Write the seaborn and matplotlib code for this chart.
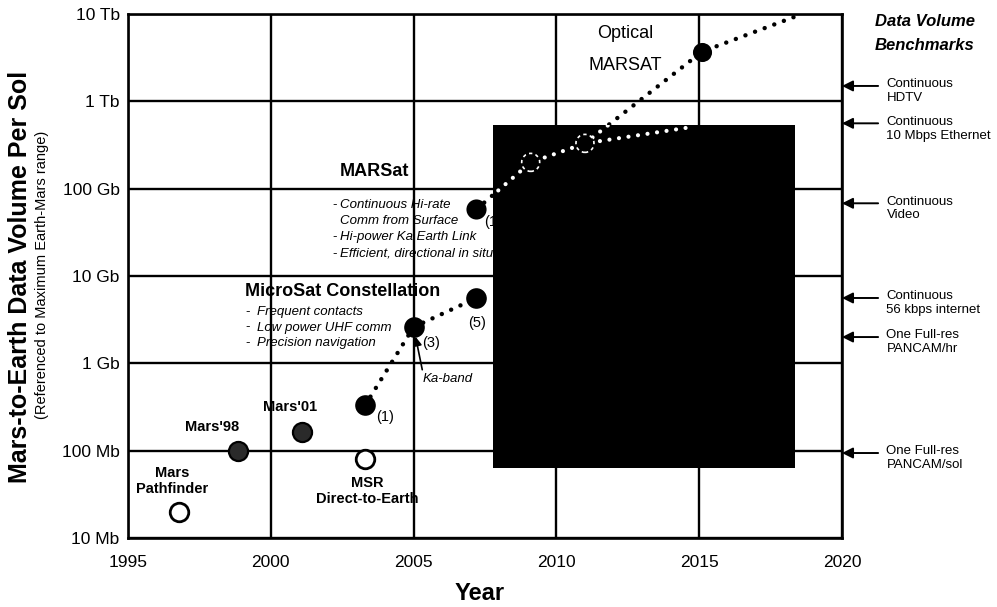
import matplotlib
matplotlib.use("Agg")
import matplotlib.pyplot as plt
import seaborn as sns
import numpy as np
import pandas as pd
from matplotlib.patches import Rectangle

# ---------------- data ----------------
mission_names = ["Mars\nPathfinder", "Mars'98", "Mars'01", "MSR\nDirect-to-Earth"]
mission_years = [1996.8, 1998.85, 2001.1, 2003.3]
mission_volume = [2.0e7, 1.0e8, 1.65e8, 8.0e7]

microsat_labels = ["(1)", "(3)", "(5)"]
microsat_years = [2003.3, 2005.0, 2007.2]
microsat_volume = [3.3e8, 2.6e9, 5.6e9]

marsat_years = [2007.2, 2009.1, 2011.0, 2014.6]
marsat_volume = [5.8e10, 2.0e11, 3.3e11, 5.0e11]

optical_years = [2011.0, 2015.1, 2018.6]
optical_volume = [3.3e11, 3.7e12, 1.0e13]

benchmark_labels = ["Continuous\nHDTV", "Continuous\n10 Mbps Ethernet", "Continuous\nVideo",
                    "Continuous\n56 kbps internet", "One Full-res\nPANCAM/hr", "One Full-res\nPANCAM/sol"]
benchmark_volume = [1.5e12, 5.6e11, 6.8e10, 5.6e9, 2.0e9, 9.4e7]

x_ticks = [1995, 2000, 2005, 2010, 2015, 2020]
y_ticks = [1e7, 1e8, 1e9, 1e10, 1e11, 1e12, 1e13]
y_tick_labels = ["10 Mb", "100 Mb", "1 Gb", "10 Gb", "100 Gb", "1 Tb", "10 Tb"]

microsat_notes = ["Frequent contacts", "Low power UHF comm", "Precision navigation"]
marsat_notes = ["Continuous Hi-rate", "Comm from Surface", "Hi-power Ka Earth Link", "Efficient, directional in situ"]

# redaction block in the scan (years, volume)
block_x = (2007.78, 2018.35)
block_y = (6.3e7, 5.3e11)

# ---------------- style ----------------
sns.set_theme(style="white")
plt.rcParams["font.family"] = ["Liberation Sans", "DejaVu Sans"]
plt.rcParams["text.color"] = "black"
plt.rcParams["axes.labelcolor"] = "black"
plt.rcParams["xtick.color"] = "black"
plt.rcParams["ytick.color"] = "black"

W, H = 997, 607
fig = plt.figure(figsize=(W / 100, H / 100), dpi=100)
ax = fig.add_axes([128 / W, 1 - 538 / H, (842 - 128) / W, (538 - 14) / H])

def fx(x):
    return x / W

def fy(y):
    return 1 - y / H

ax.set_yscale("log")
ax.set_xlim(1995, 2020)
ax.set_ylim(1e7, 1e13)
ax.set_xticks(x_ticks)
ax.set_xticklabels([str(t) for t in x_ticks], fontsize=12.5, color="black")
ax.set_yticks(y_ticks)
ax.set_yticklabels(y_tick_labels, fontsize=12.5, color="black")
ax.yaxis.set_minor_locator(matplotlib.ticker.NullLocator())
ax.tick_params(axis="both", length=0, colors="black")
ax.tick_params(axis="x", pad=12)
ax.tick_params(axis="y", pad=6)
ax.set_axisbelow(True)
ax.grid(True, color="black", linewidth=1.7)
for s in ax.spines.values():
    s.set_color("black")
    s.set_linewidth(1.9)
ax.set_xlabel("")
ax.set_ylabel("")

dot_ls = (0, (0.01, 2.3))

# trend lines (black, beneath the block)
for xs, ys in [(microsat_years, microsat_volume), (marsat_years, marsat_volume),
               (optical_years, optical_volume)]:
    sns.lineplot(x=xs, y=ys, ax=ax, color="black", lw=3.2, linestyle=dot_ls,
                 dash_capstyle="round", sort=False, estimator=None, zorder=2)

# block
block = Rectangle((block_x[0], block_y[0]), block_x[1] - block_x[0], block_y[1] - block_y[0],
                  facecolor="black", edgecolor="none", zorder=3)
ax.add_patch(block)

# white copies visible through the block
for xs, ys in [(marsat_years, marsat_volume), (optical_years, optical_volume)]:
    ln, = ax.plot(xs, ys, color="white", lw=3.0, linestyle=dot_ls, dash_capstyle="round", zorder=4)
    ln.set_clip_path(block)

# missions
msize = 210
sns.scatterplot(x=[mission_years[0], mission_years[3]], y=[mission_volume[0], mission_volume[3]],
                ax=ax, s=msize * 0.85, color="white", edgecolor="black", linewidth=2.0, zorder=2.5)
sns.scatterplot(x=[mission_years[1], mission_years[2]], y=[mission_volume[1], mission_volume[2]],
                ax=ax, s=msize * 0.9, color="#2a2a2a", edgecolor="black", linewidth=1.6, zorder=2.5)
sns.scatterplot(x=microsat_years, y=microsat_volume, ax=ax, s=msize * 1.05, color="black",
                edgecolor="black", linewidth=0, zorder=2.5)
sns.scatterplot(x=[marsat_years[0]], y=[marsat_volume[0]], ax=ax, s=msize, color="black",
                edgecolor="black", linewidth=0, zorder=2.5)
sns.scatterplot(x=[optical_years[1]], y=[optical_volume[1]], ax=ax, s=msize * 0.9, color="black",
                edgecolor="black", linewidth=0, zorder=2.5)
oc = ax.scatter(marsat_years[1:3], marsat_volume[1:3], s=msize * 0.8, facecolor="black",
                edgecolor="white", linewidth=1.2, linestyle=(0, (2, 2)), zorder=4.5)
oc.set_clip_path(block)

# ---------------- text ----------------
mission_pos = [(172, 481), (212, 427), (290, 407), (367, 491)]
for name, (px, py) in zip(mission_names, mission_pos):
    fig.text(fx(px), fy(py), name, ha="center", va="center", fontsize=10.5,
             fontweight="bold", linespacing=1.15)

for lab, (px, py) in zip(microsat_labels, [(385, 417), (431, 343), (477, 323)]):
    fig.text(fx(px), fy(py), lab, ha="center", va="center", fontsize=10.5)
fig.text(fx(484), fy(222), "(1)", ha="left", va="center", fontsize=10.5, zorder=0)

ax.annotate("Ka-band", xy=(microsat_years[1], microsat_volume[1]), xycoords="data",
            xytext=(fx(448), fy(379)), textcoords="figure fraction",
            ha="center", va="center", fontsize=9.5, style="italic",
            arrowprops=dict(arrowstyle="-|>", color="black", lw=1.2, mutation_scale=13,
                            shrinkA=0, shrinkB=7, relpos=(0.0, 1.0)))

fig.text(fx(245), fy(292), "MicroSat Constellation", ha="left", va="center",
         fontsize=13, fontweight="bold")
for i, note in enumerate(microsat_notes):
    y = 312 + i * 15.5
    fig.text(fx(245), fy(y), "-", ha="left", va="center", fontsize=9.5)
    fig.text(fx(257), fy(y), note, ha="left", va="center", fontsize=9.5, style="italic")

fig.text(fx(374), fy(172), "MARSat", ha="center", va="center", fontsize=13, fontweight="bold")
for i, note in enumerate(marsat_notes):
    y = 205 + i * 16.2
    if i != 1:
        fig.text(fx(332), fy(y), "-", ha="left", va="center", fontsize=9.5)
    ax.text(fx(340), fy(y), note, ha="left", va="center", fontsize=9.5,
            style="italic", transform=fig.transFigure, zorder=2.8)

fig.text(fx(625), fy(33), "Optical", ha="center", va="center", fontsize=13)
fig.text(fx(625), fy(66), "MARSAT", ha="center", va="center", fontsize=13)

# benchmarks
fig.text(fx(875), fy(21), "Data Volume", ha="left", va="center", fontsize=12,
         fontweight="bold", style="italic")
fig.text(fx(875), fy(45), "Benchmarks", ha="left", va="center", fontsize=12,
         fontweight="bold", style="italic")
for lab, v in zip(benchmark_labels, benchmark_volume):
    ax.annotate("", xy=(1.0, v), xycoords=("axes fraction", "data"),
                xytext=(26, 0), textcoords="offset points", annotation_clip=False,
                arrowprops=dict(arrowstyle="-|>", color="black", lw=1.4, mutation_scale=16,
                                shrinkA=0, shrinkB=0))
    ax.annotate(lab, xy=(1.0, v), xycoords=("axes fraction", "data"),
                xytext=(32, -3.8), textcoords="offset points", annotation_clip=False,
                ha="left", va="center", fontsize=9.5, linespacing=1.2)

# axis titles
fig.text(fx(20), fy(277), "Mars-to-Earth Data Volume Per Sol", rotation=90, ha="center",
         va="center", fontsize=18, fontweight="bold")
fig.text(fx(42), fy(275), "(Referenced to Maximum Earth-Mars range)", rotation=90,
         ha="center", va="center", fontsize=10.5)
fig.text(fx(480), fy(593), "Year", ha="center", va="center", fontsize=17, fontweight="bold")

fig.savefig("out.png", dpi=100, facecolor="white")
